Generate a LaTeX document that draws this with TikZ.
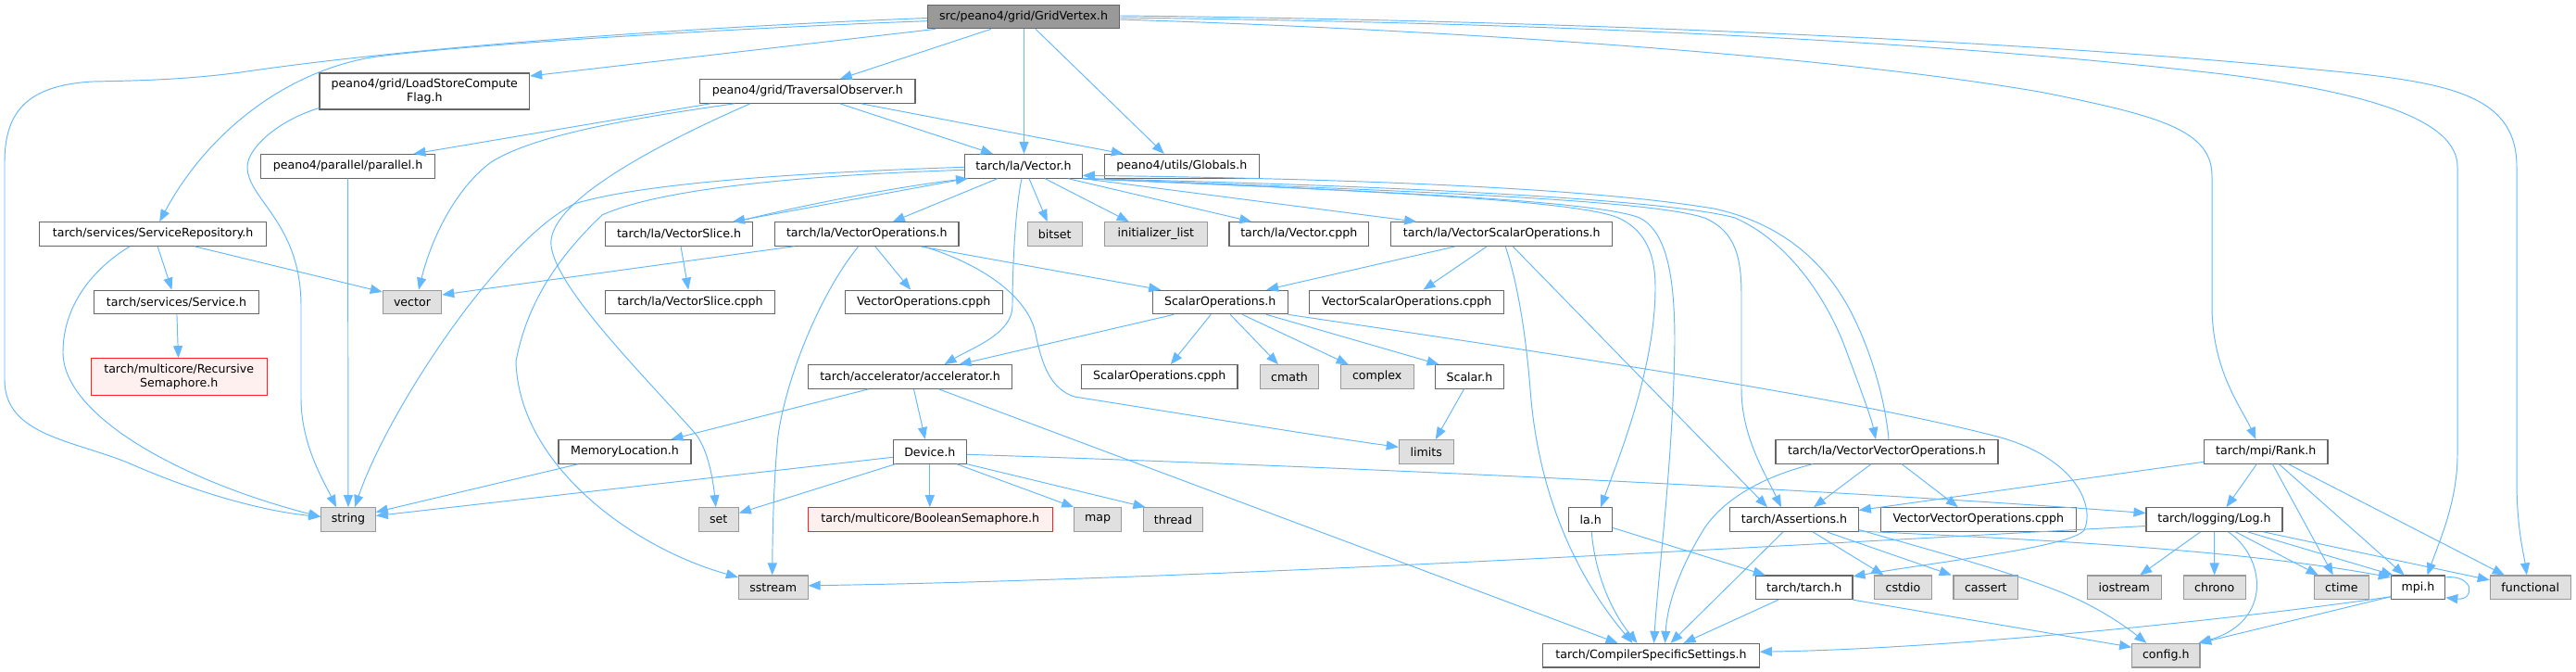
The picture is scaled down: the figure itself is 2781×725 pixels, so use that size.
\documentclass[tikz,border=0pt]{standalone}
\usepackage{fontspec}
\setmainfont{DejaVu Sans}
\usetikzlibrary{arrows.meta}
\definecolor{edgec}{HTML}{63B8FF}
\definecolor{gforty}{HTML}{666666}
\definecolor{gsixty}{HTML}{999999}
\definecolor{gext}{HTML}{E0E0E0}
\definecolor{pinkbg}{HTML}{FFF0F0}
\definecolor{redb}{HTML}{FF2020}
\begin{document}
\begin{tikzpicture}[x=1pt,y=-1pt,
  every node/.style={font=\fontsize{12.6}{15}\selectfont, text=black},
  nd/.style={draw=gforty, fill=white, line width=1.1pt, inner sep=0pt, minimum height=25.6pt, align=center},
  ext/.style={nd, draw=gsixty, fill=gext},
  rootnd/.style={nd, draw=gforty, fill=gsixty},
  rednd/.style={nd, draw=redb, fill=pinkbg},
  e/.style={draw=edgec, line width=0.95pt, -{Triangle[length=13pt,width=10pt]}},
]
\fill[white] (0,0) rectangle (2781,725);
\useasboundingbox (0,0) rectangle (2781,725);

% nodes
\node[rootnd, minimum width=207pt] (gv) at (1105,18) {src/peano4/grid/GridVertex.h};
\node[nd, minimum width=226.7pt, minimum height=39pt] (lscf) at (458.3,98.5) {peano4/grid/LoadStoreCompute\\Flag.h};
\node[nd, minimum width=232.3pt] (to) at (871.8,98.5) {peano4/grid/TraversalObserver.h};
\node[nd, minimum width=187.6pt] (par) at (375.5,179.3) {peano4/parallel/parallel.h};
\node[nd, minimum width=126.6pt] (vec) at (1105,179.3) {tarch/la/Vector.h};
\node[nd, minimum width=167pt] (glob) at (1275.8,179.3) {peano4/utils/Globals.h};
\node[nd, minimum width=245pt] (sr) at (165.2,252.5) {tarch/services/ServiceRepository.h};
\node[nd, minimum width=158.6pt] (vslice) at (733,252.5) {tarch/la/VectorSlice.h};
\node[nd, minimum width=198.3pt] (vecops) at (935.8,252.5) {tarch/la/VectorOperations.h};
\node[ext, minimum width=59.3pt] (bitset) at (1138.7,252.5) {bitset};
\node[ext, minimum width=111pt] (init) at (1247.8,252.5) {initializer\_list};
\node[nd, minimum width=150.7pt] (vcpph) at (1402.3,252.5) {tarch/la/Vector.cpph};
\node[nd, minimum width=239pt] (vso) at (1621.2,252.5) {tarch/la/VectorScalarOperations.h};
\node[ext, minimum width=63.4pt] (nvector) at (445,326) {vector};
\node[nd, minimum width=177.6pt] (service) at (190.5,326) {tarch/services/Service.h};
\node[nd, minimum width=183pt] (vscpph) at (745.2,326) {tarch/la/VectorSlice.cpph};
\node[nd, minimum width=169.7pt] (vocpph) at (997.2,326) {VectorOperations.cpph};
\node[nd, minimum width=145.7pt] (sops) at (1317.2,326) {ScalarOperations.h};
\node[nd, minimum width=209.6pt] (vsocpph) at (1518.5,326) {VectorScalarOperations.cpph};
\node[rednd, minimum width=189.7pt, minimum height=40pt] (recsem) at (193.2,406.7) {tarch/multicore/Recursive\\Semaphore.h};
\node[nd, minimum width=220.4pt] (accel) at (982.5,406.5) {tarch/accelerator/accelerator.h};
\node[nd, minimum width=168.3pt] (socpph) at (1251.8,406.5) {ScalarOperations.cpph};
\node[ext, minimum width=62.6pt] (cmath) at (1392,406.5) {cmath};
\node[ext, minimum width=78.7pt] (complex) at (1486.7,406.5) {complex};
\node[nd, minimum width=73.6pt] (scalar) at (1586.5,406.5) {Scalar.h};
\node[nd, minimum width=143pt] (memloc) at (674.5,487.3) {MemoryLocation.h};
\node[nd, minimum width=79pt] (device) at (1003.8,487.3) {Device.h};
\node[ext, minimum width=59pt] (limits) at (1539.8,487.3) {limits};
\node[nd, minimum width=240pt] (vvo) at (2037,487.3) {tarch/la/VectorVectorOperations.h};
\node[nd, minimum width=133.3pt] (rank) at (2446.3,487.3) {tarch/mpi/Rank.h};
\node[ext, minimum width=58.6pt] (nstring) at (376,560.5) {string};
\node[ext, minimum width=43pt] (nset) at (775.8,560.5) {set};
\node[rednd, minimum width=263.7pt] (boolsem) at (1004.2,560.5) {tarch/multicore/BooleanSemaphore.h};
\node[ext, minimum width=51pt] (nmap) at (1185.2,560.5) {map};
\node[ext, minimum width=64.4pt] (thread) at (1266.5,560.5) {thread};
\node[nd, minimum width=47pt] (lah) at (1717.2,560.5) {la.h};
\node[nd, minimum width=138.6pt] (nassert) at (1937,560.5) {tarch/Assertions.h};
\node[nd, minimum width=211pt] (vvocpph) at (2135.8,560.5) {VectorVectorOperations.cpph};
\node[nd, minimum width=147pt] (log) at (2390.5,560.5) {tarch/logging/Log.h};
\node[ext, minimum width=74.7pt] (sstream) at (834.7,633.8) {sstream};
\node[nd, minimum width=104.3pt] (tarch) at (1947.8,633.8) {tarch/tarch.h};
\node[ext, minimum width=61.6pt] (cstdio) at (2054.5,633.8) {cstdio};
\node[ext, minimum width=69.7pt] (cassert) at (2143.8,633.8) {cassert};
\node[ext, minimum width=80.3pt] (iostream) at (2293.2,633.8) {iostream};
\node[ext, minimum width=66.7pt] (chrono) at (2390.7,633.8) {chrono};
\node[ext, minimum width=59pt] (ctime) at (2527.8,633.8) {ctime};
\node[nd, minimum width=58.4pt] (mpi) at (2610.5,633.8) {mpi.h};
\node[ext, minimum width=87pt] (func) at (2731.8,633.8) {functional};
\node[nd, minimum width=233.6pt] (css) at (1782.5,707.2) {tarch/CompilerSpecificSettings.h};
\node[ext, minimum width=73.3pt] (config) at (2338.3,707.2) {config.h};

% edges from GridVertex
\draw[e] ([yshift=-1.5pt]gv.west) .. controls (800,27) and (470,47) .. (260,78) .. controls (200,86) and (150,87) .. (100,88) .. controls (30,92) and (5,120) .. (5,175) -- (5,410) .. controls (5,470) and (80,475) .. (140,500) .. controls (220,535) and (290,552) .. ([yshift=3pt]nstring.west);
\draw[e] ([yshift=-4.7pt]gv.west) .. controls (800,30) and (500,48) .. (400,62) .. controls (300,80) and (220,150) .. ([xshift=7pt]sr.north);
\draw[e] ([xshift=-95pt]gv.south) -- ([yshift=16.5pt]lscf.east);
\draw[e] ([xshift=-35pt]gv.south) -- ([xshift=35pt]to.north);
\draw[e] ([xshift=0.5pt]gv.south) -- ([xshift=0.5pt]vec.north);
\draw[e] ([xshift=13pt]gv.south) -- ([xshift=-19pt]glob.north);
\draw[e] ([yshift=-3pt]gv.east) .. controls (1500,30) and (1950,55) .. (2207,100) .. controls (2330,125) and (2388,140) .. (2388,190) -- (2388,330) .. controls (2388,400) and (2420,440) .. ([xshift=-11pt]rank.north);
\draw[e] ([yshift=-1pt]gv.east) .. controls (1700,25) and (2100,45) .. (2400,80) .. controls (2560,100) and (2653,130) .. (2653,180) -- (2653,490) .. controls (2653,540) and (2635,580) .. ([xshift=10pt]mpi.north);
\draw[e] ([yshift=1pt]gv.east) .. controls (1700,22) and (2200,45) .. (2500,75) .. controls (2640,88) and (2717,100) .. (2717,180) -- (2717,520) .. controls (2717,570) and (2725,600) .. ([xshift=-4pt]func.north);

% LoadStoreComputeFlag, TraversalObserver, parallel
\draw[e] ([yshift=2pt]lscf.south west) .. controls (300,130) and (267,160) .. (267,180) .. controls (267,215) and (325,240) .. (325,330) -- (325,430) .. controls (325,480) and (350,520) .. ([xshift=-13pt]nstring.north);
\draw[e] ([xshift=-105pt]to.south) -- ([xshift=71pt]par.north);
\draw[e] ([xshift=-79pt]to.south) .. controls (650,132) and (570,150) .. (530,175) .. controls (490,205) and (465,260) .. ([xshift=7pt]nvector.north);
\draw[e] ([xshift=-62pt]to.south) .. controls (700,160) and (590,220) .. (595,265) .. controls (600,310) and (690,400) .. (750,467) .. controls (765,485) and (770,520) .. ([xshift=-3pt]nset.north);
\draw[e] ([xshift=35pt]to.south) -- ([xshift=-33pt]vec.north);
\draw[e] ([xshift=58pt]to.south) -- ([xshift=-63pt]glob.north);
\draw[e] (par) -- (nstring);

% services
\draw[e] ([xshift=5pt]sr.south) -- ([xshift=-5pt]service.north);
\draw[e] ([xshift=45pt]sr.south) -- ([yshift=11pt]nvector.west);
\draw[e] ([xshift=-25pt]sr.south) .. controls (100,290) and (68,330) .. (68,380) .. controls (68,450) and (200,520) .. ([yshift=3pt]nstring.west);
\draw[e] (service) -- (recsem);

% Vector.h
\draw[e] ([yshift=-1pt]vec.west) .. controls (900,185) and (700,195) .. (620,220) .. controls (540,260) and (420,440) .. ([xshift=7pt]nstring.north);
\draw[e] ([yshift=-4pt]vec.west) .. controls (900,188) and (720,200) .. (650,232) .. controls (610,270) and (570,320) .. (557,390) .. controls (560,500) and (680,590) .. ([yshift=11pt]sstream.west);
\draw[e] ([xshift=-62pt]vec.south) -- ([xshift=58pt]vslice.north);
\draw[e] ([xshift=62pt]vslice.north) .. controls (880,218) and (980,200) .. ([xshift=-60pt]vec.south);
\draw[e] ([xshift=-28pt]vec.south) -- ([xshift=28pt]vecops.north);
\draw[e] ([xshift=6pt]vec.south) -- ([xshift=-8pt]bitset.north);
\draw[e] ([xshift=23pt]vec.south) -- ([xshift=-29pt]init.north);
\draw[e] ([xshift=48pt]vec.south) -- ([xshift=-51pt]vcpph.north);
\draw[e] (vec.south east) -- ([xshift=-92pt]vso.north);
\draw[e] ([xshift=-2pt]vec.south) .. controls (1095,230) and (1093,300) .. (1093,330) .. controls (1093,360) and (1050,375) .. ([xshift=37pt]accel.north);
\draw[e] (vec.south east) .. controls (1450,205) and (1700,215) .. (1747,235) .. controls (1780,250) and (1787,280) .. (1787,310) .. controls (1787,400) and (1745,500) .. ([xshift=11pt]lah.north);
\draw[e] (vec.south east) .. controls (1450,205) and (1720,215) .. (1770,235) .. controls (1800,250) and (1808,300) .. (1808,370) .. controls (1806,500) and (1790,620) .. ([xshift=3pt]css.north);
\draw[e] (vec.south east) .. controls (1500,205) and (1780,215) .. (1840,235) .. controls (1875,250) and (1880,280) .. (1880,320) -- (1880,420) .. controls (1880,470) and (1905,510) .. ([xshift=-14pt]nassert.north);
\draw[e] (vec.south east) .. controls (1500,200) and (1800,215) .. (1873,235) .. controls (1930,260) and (1970,320) .. (1990,370) .. controls (2005,410) and (2020,450) .. ([xshift=-12pt]vvo.north);
\draw[e] ([xshift=2pt]vvo.north) .. controls (2035,430) and (2020,380) .. (2000,340) .. controls (1970,280) and (1920,240) .. (1850,225) .. controls (1700,200) and (1400,192) .. ([yshift=-10pt]vec.east);

% VectorOperations, VectorSlice
\draw[e] ([xshift=-79pt]vecops.south) -- ([yshift=8pt]nvector.east);
\draw[e] ([xshift=9pt]vecops.south) -- ([xshift=-14pt]vocpph.north);
\draw[e] ([xshift=58pt]vecops.south) -- ([xshift=-64pt]sops.north);
\draw[e] ([xshift=61pt]vecops.south) .. controls (1060,285) and (1110,320) .. (1118,360) .. controls (1125,395) and (1135,420) .. (1160,428) .. controls (1280,447) and (1420,470) .. ([yshift=5pt]limits.west);
\draw[e] ([xshift=-9pt]vecops.south) .. controls (890,310) and (850,400) .. (840,470) .. controls (835,520) and (834,580) .. ([xshift=-1pt]sstream.north);
\draw[e] ([xshift=2pt]vslice.south) -- ([xshift=-2pt]vscpph.north);

% VectorScalarOperations
\draw[e] ([xshift=-50pt]vso.south) -- ([xshift=50pt]sops.north);
\draw[e] ([xshift=-16pt]vso.south) -- ([xshift=18pt]vsocpph.north);
\draw[e] ([xshift=4pt]vso.south) .. controls (1640,310) and (1648,370) .. (1652,420) .. controls (1660,530) and (1700,620) .. ([xshift=-20pt]css.north);
\draw[e] ([xshift=12pt]vso.south) -- ([xshift=-29pt]nassert.north);

% ScalarOperations
\draw[e] ([xshift=-50pt]sops.south) -- ([xshift=53pt]accel.north);
\draw[e] ([xshift=-10pt]sops.south) -- ([xshift=12pt]socpph.north);
\draw[e] ([xshift=11pt]sops.south) -- ([xshift=-12pt]cmath.north);
\draw[e] ([xshift=24pt]sops.south) -- ([xshift=-31pt]complex.north);
\draw[e] ([xshift=50pt]sops.south) -- ([xshift=-33pt]scalar.north);
\draw[e] (sops.south east) .. controls (1700,385) and (2000,430) .. (2160,472) .. controls (2240,495) and (2262,545) .. (2250,572) .. controls (2235,590) and (2100,605) .. ([yshift=12pt]tarch.east);

% accelerator, Device, MemoryLocation
\draw[e] ([xshift=-45pt]accel.south) -- ([xshift=50pt]memloc.north);
\draw[e] ([xshift=4pt]accel.south) -- ([xshift=-5pt]device.north);
\draw[e] ([xshift=31pt]accel.south) -- ([xshift=-36pt]css.north);
\draw[e] ([xshift=-50pt]memloc.south) -- ([yshift=8pt]nstring.east);
\draw[e] ([yshift=-6pt]device.west) -- ([yshift=4pt]nstring.east);
\draw[e] ([xshift=-37pt]device.south) -- ([yshift=7pt]nset.east);
\draw[e] (device.south) -- (device.south |- boolsem.north);
\draw[e] ([xshift=29pt]device.south) -- ([xshift=-26pt]nmap.north);
\draw[e] (device.south east) -- ([xshift=-30pt]thread.north);
\draw[e] ([yshift=-3pt]device.east) .. controls (1500,505) and (2000,530) .. ([yshift=7pt]log.west);
\draw[e] ([xshift=-6pt]scalar.south) -- ([xshift=10pt]limits.north);

% la.h, VectorVectorOperations
\draw[e] ([xshift=1pt]lah.south) .. controls (1722,620) and (1740,660) .. ([xshift=-15pt]css.north);
\draw[e] ([yshift=-9pt]lah.east) -- ([xshift=-42pt]tarch.north);
\draw[e] ([xshift=-17pt]vvo.south) -- ([xshift=21pt]nassert.north);
\draw[e] ([xshift=16pt]vvo.south) -- ([xshift=-22pt]vvocpph.north);
\draw[e] ([xshift=-80pt]vvo.south) .. controls (1900,515) and (1860,540) .. (1840,570) .. controls (1815,610) and (1800,650) .. ([xshift=15pt]css.north);

% Assertions, tarch
\draw[e] ([xshift=-12pt]nassert.south) -- ([xshift=21pt]css.north);
\draw[e] ([xshift=20pt]nassert.south) -- ([xshift=-21pt]cstdio.north);
\draw[e] ([xshift=35pt]nassert.south) -- ([xshift=-37pt]cassert.north);
\draw[e] ([yshift=-11pt]nassert.east) .. controls (2100,598) and (2200,625) .. (2250,650) .. controls (2280,665) and (2300,680) .. ([xshift=-21pt]config.north);
\draw[e] ([yshift=-12.5pt]nassert.east) .. controls (2150,580) and (2400,590) .. ([yshift=11pt]mpi.west);
\draw[e] ([xshift=-28pt]tarch.south) -- ([xshift=35pt]css.north);
\draw[e] (tarch.south east) -- ([yshift=9pt]config.west);

% Log
\draw[e] ([xshift=-15pt]log.south) -- ([xshift=17pt]iostream.north);
\draw[e] (log) -- (chrono);
\draw[e] ([xshift=15pt]log.south) .. controls (2445,600) and (2455,670) .. ([xshift=35pt]config.north);
\draw[e] ([xshift=23pt]log.south) -- ([xshift=-25pt]ctime.north);
\draw[e] ([xshift=36pt]log.south) -- ([xshift=-27pt]mpi.north);
\draw[e] ([xshift=53pt]log.south) -- ([yshift=8pt]func.west);
\draw[e] ([yshift=-7pt]log.west) .. controls (1900,590) and (1300,625) .. ([yshift=2pt]sstream.east);

% Rank
\draw[e] ([xshift=-10pt]rank.south) -- ([xshift=13pt]log.north);
\draw[e] ([xshift=7pt]rank.south) -- ([xshift=-9pt]ctime.north);
\draw[e] ([xshift=14pt]rank.south) -- ([xshift=-15pt]mpi.north);
\draw[e] ([xshift=24pt]rank.south) -- ([xshift=-28pt]func.north);
\draw[e] ([yshift=-11pt]rank.west) -- ([yshift=10pt]nassert.east);

% mpi
\draw[e] ([yshift=11pt]mpi.east) .. controls (2672,620) and (2672,648) .. ([yshift=-11pt]mpi.east);
\draw[e] ([yshift=-10pt]mpi.west) -- ([xshift=36pt]config.north);
\draw[e] ([yshift=-10pt]mpi.west) .. controls (2400,670) and (2100,700) .. ([yshift=4pt]css.east);
\end{tikzpicture}
\end{document}
